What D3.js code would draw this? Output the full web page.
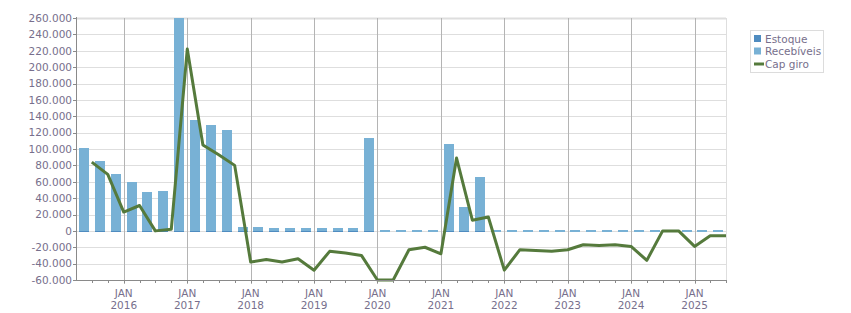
<!DOCTYPE html>
<html>
<head>
<meta charset="utf-8">
<script src="https://cdn.jsdelivr.net/npm/d3@7"></script>
<style>
  body { margin: 0; background: #fff; }
  svg text { font-family: "DejaVu Sans", sans-serif; }
</style>
</head>
<body>
<div id="chart"></div>
<script>
// quarter dates (line points sit on these, bars fill the quarter before)
const quarters = [
    "2015-07", "2015-10", "2016-01", "2016-04", "2016-07", "2016-10",
    "2017-01", "2017-04", "2017-07", "2017-10", "2018-01", "2018-04",
    "2018-07", "2018-10", "2019-01", "2019-04", "2019-07", "2019-10",
    "2020-01", "2020-04", "2020-07", "2020-10", "2021-01", "2021-04",
    "2021-07", "2021-10", "2022-01", "2022-04", "2022-07", "2022-10",
    "2023-01", "2023-04", "2023-07", "2023-10", "2024-01", "2024-04",
    "2024-07", "2024-10", "2025-01", "2025-04", "2025-07"
];

const estoque = [
    0, 0, 0, 0, 0, 0, 0, 0, 0, 0, 0, 0, 0, 0, 0, 0, 0, 0, 0, 0, 0,
    0, 0, 0, 0, 0, 0, 0, 0, 0, 0, 0, 0, 0, 0, 0, 0, 0, 0, 0, 0
];

const recebiveis = [
    101000, 85000, 70000, 60000, 48000, 49000, 260000, 135000, 129000, 123000,
    5000, 5000, 3000, 3000, 3000, 3000, 4000, 3000, 113000, 0,
    0, 0, 0, 106000, 29000, 66000, 0, 0, 0, 0,
    0, 0, 0, 0, 0, 0, 0, 0, 0, 0, 0
];

const capGiro = [
    84000, 69000, 23000, 31000, 0, 2000, 222000, 105000, 93000, 80000,
    -38000, -35000, -38000, -34000, -48000, -25000, -27000, -30000, -60000, -60000,
    -23000, -20000, -28000, 89000, 13000, 17000, -48000, -23000, -24000, -25000,
    -23000, -17000, -18000, -17000, -19000, -36000, 0, 0, -19000, -6000, -6000
];

const yTicks = [-60000, -40000, -20000, 0, 20000, 40000, 60000, 80000, 100000, 120000,
    140000, 160000, 180000, 200000, 220000, 240000, 260000];

const seriesNames = ["Estoque", "Recebíveis", "Cap giro"];
const colors = ["#4f8cc0", "#78b1d5", "#557a3c"];

const width = 851, height = 313;
const plotLeft = 76, plotRight = 726, plotTop = 18, plotBottom = 280;
const textColor = "#776f8c";

const parse = d3.timeParse("%Y-%m");
const dates = quarters.map(parse);

const svg = d3.select("#chart").append("svg")
    .attr("width", width)
    .attr("height", height);

const x = d3.scaleTime()
    .domain([parse("2015-04"), parse("2025-07")])
    .range([plotLeft, plotRight]);

const y = d3.scaleLinear()
    .domain([-60000, 260000])
    .range([plotBottom, plotTop]);

const locale = d3.formatLocale({ decimal: ",", thousands: ".", grouping: [3], currency: ["", ""], minus: "-" });
const fmt = locale.format(",d");

// horizontal grid
svg.append("g")
    .selectAll("line")
    .data(yTicks)
    .enter().append("line")
    .attr("x1", plotLeft)
    .attr("x2", plotRight)
    .attr("y1", d => Math.round(y(d)) + 0.5)
    .attr("y2", d => Math.round(y(d)) + 0.5)
    .attr("stroke", "#dedede")
    .attr("stroke-width", d => d === 260000 ? 2 : 1);

// right edge
svg.append("line")
    .attr("x1", plotRight + 0.5).attr("x2", plotRight + 0.5)
    .attr("y1", plotTop).attr("y2", plotBottom)
    .attr("stroke", "#dedede");

// yearly vertical grid
const years = d3.timeYear.range(parse("2016-01"), parse("2025-02"));
svg.append("g")
    .selectAll("line")
    .data(years)
    .enter().append("line")
    .attr("x1", d => Math.round(x(d)) + 0.5)
    .attr("x2", d => Math.round(x(d)) + 0.5)
    .attr("y1", plotTop)
    .attr("y2", plotBottom + 4)
    .attr("stroke", "#b4b4b4");

// bars (stacked: estoque under recebiveis)
const barW = 10;
const barX = (d) => Math.round((x(d3.timeMonth.offset(d, -3)) + x(d)) / 2 - barW / 2);
const y0 = Math.round(y(0));

svg.append("g")
    .selectAll("rect")
    .data(dates)
    .enter().append("rect")
    .attr("x", d => barX(d))
    .attr("width", barW)
    .attr("y", (d, i) => Math.min(y0 - 1, Math.round(y(recebiveis[i] + estoque[i]))))
    .attr("height", (d, i) => Math.max(2, y0 + 1 - Math.round(y(recebiveis[i] + estoque[i]))))
    .attr("fill", colors[1]);

svg.append("g")
    .selectAll("rect")
    .data(dates.filter((d, i) => recebiveis[i] > 0))
    .enter().append("rect")
    .attr("x", d => barX(d))
    .attr("width", barW)
    .attr("y", y0)
    .attr("height", 1)
    .attr("fill", colors[0]);

// cap giro line
const line = d3.line()
    .x(d => x(d.date))
    .y(d => y(d.value));

svg.append("path")
    .datum(dates.map((d, i) => ({ date: d, value: capGiro[i] })))
    .attr("fill", "none")
    .attr("stroke", colors[2])
    .attr("stroke-width", 3)
    .attr("stroke-linejoin", "round")
    .attr("d", line);

// y axis
svg.append("line")
    .attr("x1", plotLeft + 0.5).attr("x2", plotLeft + 0.5)
    .attr("y1", plotTop - 1).attr("y2", plotBottom + 1)
    .attr("stroke", "#8a8a8a");

const yAxis = svg.append("g");
yAxis.selectAll("line")
    .data(yTicks)
    .enter().append("line")
    .attr("x1", plotLeft - 3).attr("x2", plotLeft)
    .attr("y1", d => Math.round(y(d)) + 0.5)
    .attr("y2", d => Math.round(y(d)) + 0.5)
    .attr("stroke", "#8a8a8a");

yAxis.selectAll("text")
    .data(yTicks)
    .enter().append("text")
    .attr("x", plotLeft - 4)
    .attr("y", d => y(d))
    .attr("dy", "0.36em")
    .attr("text-anchor", "end")
    .attr("fill", textColor)
    .style("font-size", "10.5px")
    .text(d => fmt(d));

// x axis
svg.append("line")
    .attr("x1", plotLeft).attr("x2", plotRight + 1)
    .attr("y1", plotBottom + 0.5).attr("y2", plotBottom + 0.5)
    .attr("stroke", "#8a8a8a");

const minor = d3.timeMonth.every(3).range(parse("2015-07"), parse("2025-08"));
svg.append("g")
    .selectAll("line")
    .data(minor)
    .enter().append("line")
    .attr("x1", d => Math.round(x(d)) + 0.5)
    .attr("x2", d => Math.round(x(d)) + 0.5)
    .attr("y1", plotBottom)
    .attr("y2", plotBottom + 3)
    .attr("stroke", "#8a8a8a");

const xLabels = svg.append("g");
years.forEach(d => {
    const t = xLabels.append("text")
        .attr("x", x(d))
        .attr("text-anchor", "middle")
        .attr("fill", textColor)
        .style("font-size", "10.5px");
    t.append("tspan").attr("x", x(d)).attr("y", 297).text("JAN");
    t.append("tspan").attr("x", x(d)).attr("y", 309).text(d3.timeFormat("%Y")(d));
});

// legend
const legend = svg.append("g");
legend.append("rect")
    .attr("x", 750.5).attr("y", 30.5)
    .attr("width", 73).attr("height", 42)
    .attr("fill", "#fff")
    .attr("stroke", "#dcdcdc");

seriesNames.forEach((name, i) => {
    const cy = 39 + i * 12.5;
    if (i < 2) {
        legend.append("rect")
            .attr("x", 754).attr("y", cy - 4)
            .attr("width", 7).attr("height", 7)
            .attr("fill", colors[i]);
    } else {
        legend.append("line")
            .attr("x1", 754).attr("x2", 764)
            .attr("y1", cy).attr("y2", cy)
            .attr("stroke", colors[i])
            .attr("stroke-width", 3);
    }
    legend.append("text")
        .attr("x", 765)
        .attr("y", cy)
        .attr("dy", "0.36em")
        .attr("fill", textColor)
        .style("font-size", "10.5px")
        .text(name);
});
</script>
</body>
</html>
